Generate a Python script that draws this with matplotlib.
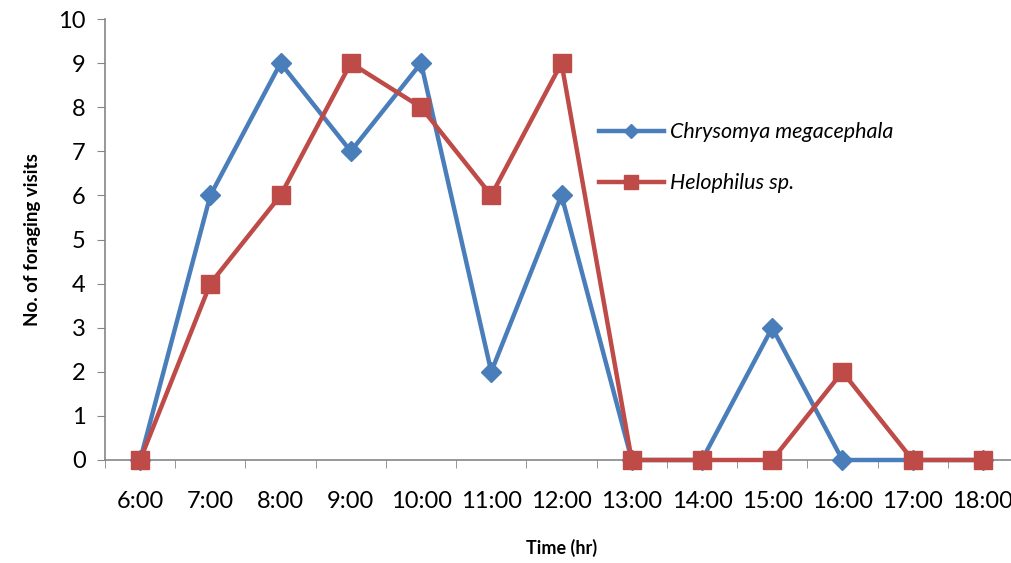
import numpy as np
import matplotlib
matplotlib.use("Agg")
import matplotlib.pyplot as plt

times = ["6:00", "7:00", "8:00", "9:00", "10:00", "11:00", "12:00",
         "13:00", "14:00", "15:00", "16:00", "17:00", "18:00"]
chrysomya = [0, 6, 9, 7, 9, 2, 6, 0, 0, 3, 0, 0, 0]
helophilus = [0, 4, 6, 9, 8, 6, 9, 0, 0, 0, 2, 0, 0]

plt.rcParams["font.family"] = ["Lato", "DejaVu Sans"]

fig = plt.figure(figsize=(10.12, 5.63), dpi=100)
ax = fig.add_axes([105 / 1012, 103 / 563, 913 / 1012, 441 / 563])

x = np.arange(len(times))
ax.plot(x, chrysomya, color="#4a7ebb", lw=3.2, marker="D", ms=10,
        label="Chrysomya megacephala", zorder=3, clip_on=False)
ax.plot(x, helophilus, color="#be4b48", lw=3.2, marker="s", ms=13.5,
        label="Helophilus sp.", zorder=4, clip_on=False)

ax.set_xlim(-0.5, len(times) - 0.5)
ax.set_ylim(0, 10)
ax.set_yticks(range(0, 11))
ax.set_xticks(x)
ax.set_xticklabels(times)
ax.set_xticks(np.arange(-0.5, len(times) + 0.5, 1), minor=True)
ax.tick_params(axis="x", which="major", length=0, pad=22, labelsize=17)
ax.tick_params(axis="x", which="minor", length=6, color="#868686")
ax.tick_params(axis="y", length=6, color="#868686", labelsize=17, pad=8)

for s in ["top", "right"]:
    ax.spines[s].set_visible(False)
for s in ["left", "bottom"]:
    ax.spines[s].set_color("#868686")
    ax.spines[s].set_linewidth(1.2)

ax.set_ylabel("No. of foraging visits", fontsize=13.5, fontweight="bold", labelpad=12)
ax.set_xlabel("Time (hr)", fontsize=13, fontweight="bold", labelpad=20)

leg = ax.legend(loc="upper left", bbox_to_anchor=(0.52, 0.81), frameon=False,
                prop={"style": "italic", "size": 15.5}, handlelength=3.0,
                handletextpad=0.3, labelspacing=1.45, markerscale=0.7)

fig.savefig("out.png", dpi=100)
